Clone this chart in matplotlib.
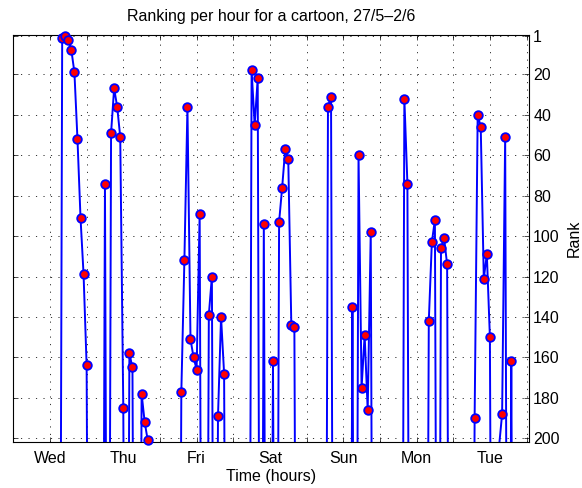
import numpy as np
import matplotlib
matplotlib.use("Agg")
import matplotlib.pyplot as plt

plt.rcParams['font.family'] = ['Liberation Sans', 'DejaVu Sans']

# Hourly chart position of the cartoon (hours counted from Wednesday 00:00).
# Only hours where it made the top 200 are listed; every other hour is outside the chart.
hour = [4, 5, 6, 7, 8, 9, 10, 11, 12,
        18, 20, 21, 22, 23, 24, 26, 27, 30, 31, 32,
        43, 44, 45, 46, 47, 48, 49, 52, 53, 55, 56, 57,
        66, 67, 68, 70, 73, 75, 76, 77, 78, 79, 80,
        91, 92, 99, 101, 102, 103, 104, 105,
        116, 117, 124, 125, 126, 128, 129, 130,
        139, 140, 141, 142, 143, 144, 147, 148, 149, 151]
rank = [2, 1, 3, 8, 19, 52, 91, 119, 164,
        74, 49, 27, 36, 51, 185, 158, 165, 178, 192, 201,
        177, 112, 36, 151, 160, 166, 89, 139, 120, 189, 140, 168,
        18, 45, 22, 94, 162, 93, 76, 57, 62, 144, 145,
        36, 31, 135, 60, 175, 149, 186, 98,
        32, 74, 142, 103, 92, 106, 101, 114,
        190, 40, 46, 121, 109, 150, 204, 188, 51, 162]
OUT_OF_CHART = 500  # placeholder rank for hours outside the top 200

days = ['Wed', 'Thu', 'Fri', 'Sat', 'Sun', 'Mon', 'Tue']
rank_ticks = [1, 20, 40, 60, 80, 100, 120, 140, 160, 180, 200]

all_hours = np.arange(0, 157)
series = np.full(all_hours.shape, OUT_OF_CHART, dtype=float)
series[np.array(hour)] = rank

fig = plt.figure(figsize=(5.82, 4.88), dpi=100)
ax = fig.add_axes([13 / 582, 1 - 441.7 / 488, (529 - 13) / 582, (441.7 - 35) / 488])

blue = (0, 0, 1)
ax.plot(all_hours, series, color=blue, lw=1.4, zorder=3)

ymin, ymax = 0.55, 201.7
h = np.array(hour)
r = np.array(rank, dtype=float)
vis = r <= 201
ax.plot(h[vis], r[vis], ls='none', marker='o', ms=6.2, mfc=(1, 0, 0),
        mec=blue, mew=1.3, clip_on=False, zorder=4)

ax.set_xlim(-12.1, 156.8)
ax.set_ylim(ymax, ymin)

xt = np.arange(0, 157, 12)
ax.set_xticks(xt)
ax.set_xticklabels([days[i // 2] if i % 2 == 0 else '' for i in range(len(xt))])
ax.set_yticks(rank_ticks)

ax.yaxis.tick_right()
ax.yaxis.set_label_position('right')
ax.tick_params(axis='both', direction='in', length=3.5, width=0.5,
               labelsize=11.5, colors='black', top=True, bottom=True,
               left=True, right=True)
ax.tick_params(axis='x', pad=7)
ax.tick_params(axis='y', pad=3)

ax.grid(True, which='major', color='0.2', lw=0.7, ls=(0, (1.2, 6.5)))
for s in ax.spines.values():
    s.set_linewidth(0.8)
    s.set_color('black')

ax.set_title('Ranking per hour for a cartoon, 27/5\u20132/6', fontsize=11.5, pad=10)
ax.set_xlabel('Time (hours)', fontsize=11.5, labelpad=2)
ax.set_ylabel('Rank', fontsize=11.5, labelpad=5)

fig.savefig('out.png', dpi=100)
